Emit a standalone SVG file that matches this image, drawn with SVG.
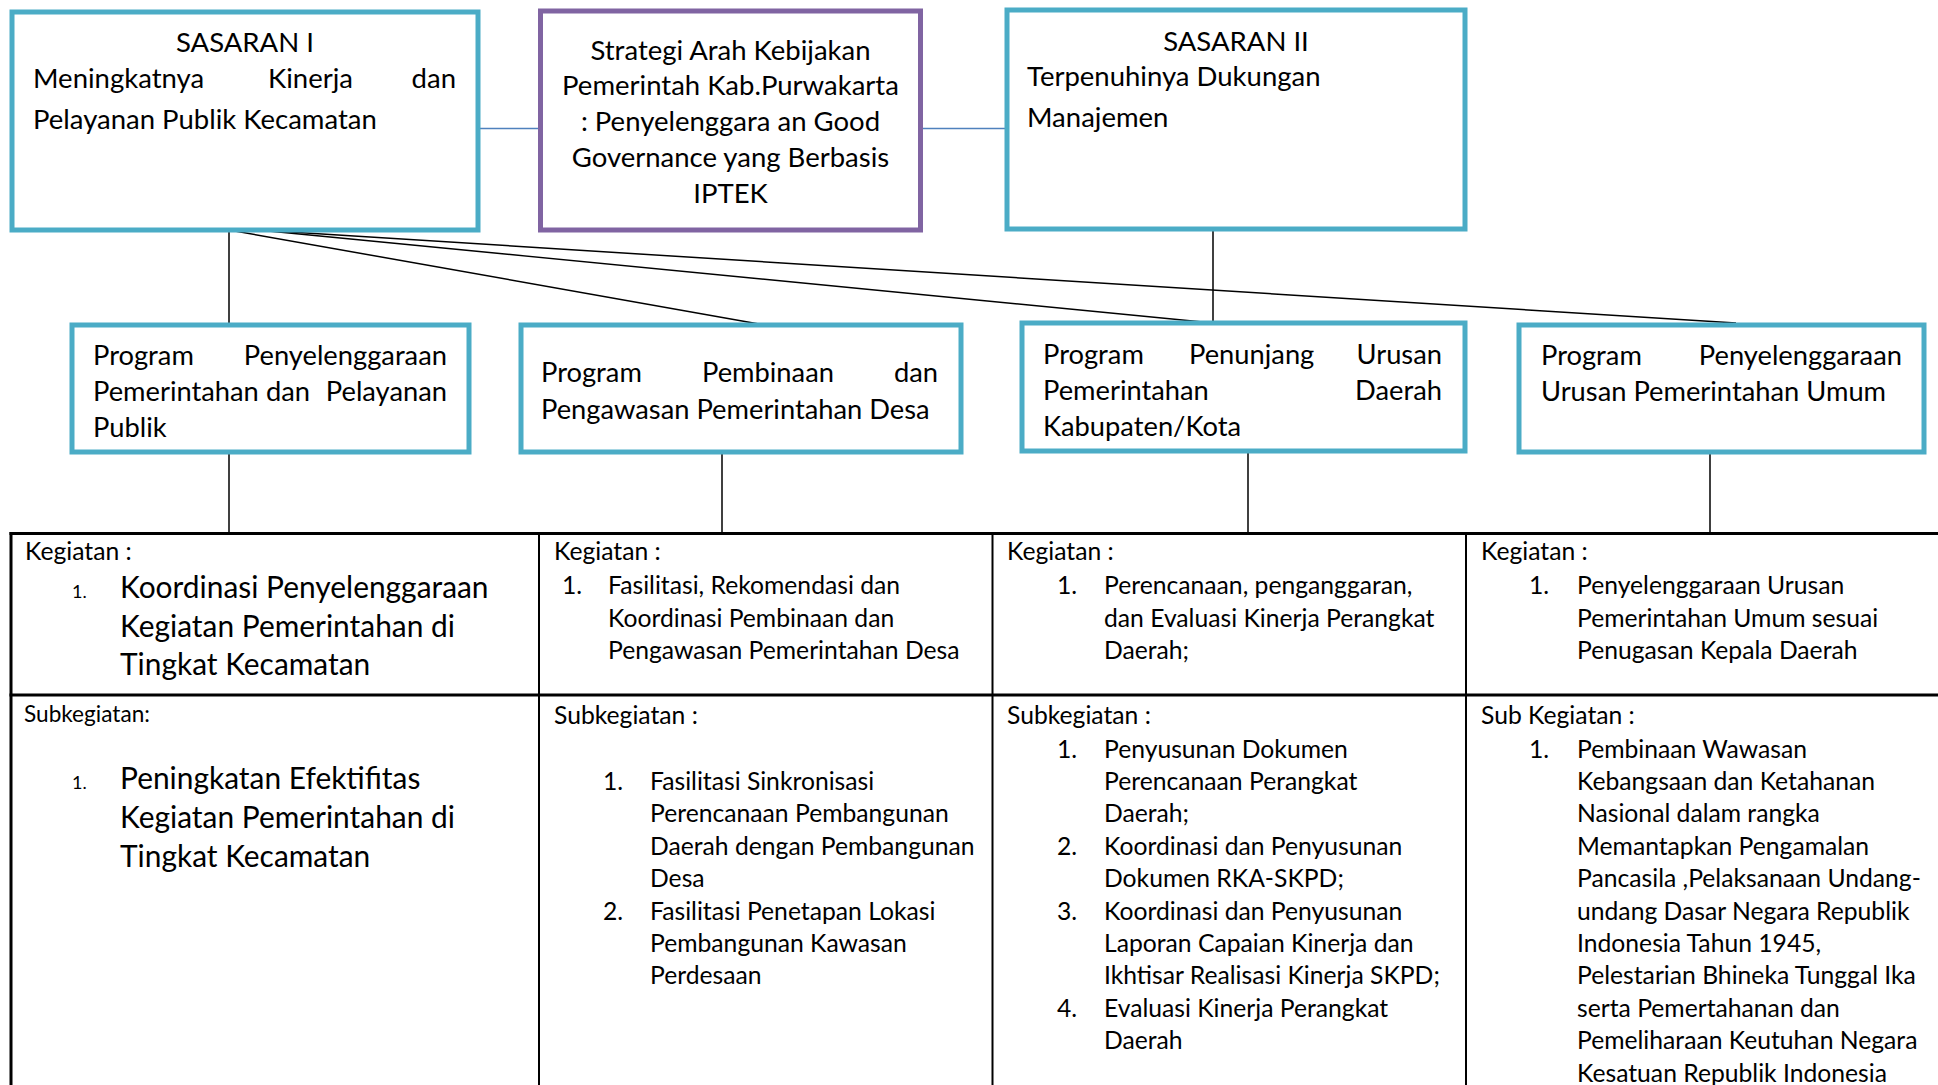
<svg xmlns="http://www.w3.org/2000/svg" width="1938" height="1085" viewBox="0 0 1938 1085">
<style>
text{font-family:Lato,"Liberation Sans",sans-serif;fill:#000}
.t{font-size:27.5px}
.p{font-size:27.3px}
.s{font-size:24.7px}
.L{font-size:29.9px}
.sm{font-size:22.6px}
.n{font-size:18px}
.mid{text-anchor:middle}
.end{text-anchor:end}
.aq{fill:#fff;stroke:#4BACC6;stroke-width:5}
.pu{fill:#fff;stroke:#8064A2;stroke-width:5}
.c{stroke:#000;stroke-width:1.5;fill:none}
.b{stroke:#4F81BD;stroke-width:1.5;fill:none}
.hb{stroke:#000;stroke-width:3}
.vb{stroke:#000;stroke-width:2}
</style>
<rect width="1938" height="1085" fill="#fff"/>
<g id="connectors">
<line class="b" x1="480" y1="128.5" x2="538" y2="128.5"/>
<line class="b" x1="923" y1="128.5" x2="1005" y2="128.5"/>
<line class="c" x1="229" y1="230" x2="229" y2="325"/>
<line class="c" x1="229" y1="230" x2="759" y2="324"/>
<line class="c" x1="258" y1="230" x2="1213" y2="323"/>
<line class="c" x1="258" y1="230" x2="1736" y2="323"/>
<line class="c" x1="1213" y1="229" x2="1213" y2="323"/>
<line class="c" x1="229" y1="452" x2="229" y2="533"/>
<line class="c" x1="722" y1="452" x2="722" y2="533"/>
<line class="c" x1="1248" y1="451" x2="1248" y2="533"/>
<line class="c" x1="1710" y1="452" x2="1710" y2="533"/>
</g>
<g id="sasaran1">
<rect class="aq" x="12" y="12" width="466" height="218"/>
<text class="t mid" x="245" y="52">SASARAN I</text>
<text class="t" x="33" y="87.5">Meningkatnya</text>
<text class="t" x="268" y="87.5">Kinerja</text>
<text class="t end" x="456" y="87.5">dan</text>
<text class="t" x="33" y="129">Pelayanan Publik Kecamatan</text>
</g>
<g id="strategi">
<rect class="pu" x="540.5" y="11" width="380" height="219"/>
<text class="t mid" x="730.5" y="60">Strategi Arah Kebijakan</text>
<text class="t mid" x="730.5" y="95">Pemerintah Kab.Purwakarta</text>
<text class="t mid" x="730.5" y="131">: Penyelenggara an Good</text>
<text class="t mid" x="730.5" y="167">Governance yang Berbasis</text>
<text class="t mid" x="730.5" y="202.5">IPTEK</text>
</g>
<g id="sasaran2">
<rect class="aq" x="1007" y="10" width="458" height="219"/>
<text class="t mid" x="1236" y="51">SASARAN II</text>
<text class="t" x="1027" y="86">Terpenuhinya Dukungan</text>
<text class="t" x="1027" y="127">Manajemen</text>
</g>
<g id="program1">
<rect class="aq" x="72" y="325" width="397" height="127"/>
<text class="p" x="93" y="365">Program</text>
<text class="p end" x="447" y="365">Penyelenggaraan</text>
<text class="p" x="93" y="401">Pemerintahan</text>
<text class="p mid" x="288" y="401">dan</text>
<text class="p end" x="447" y="401">Pelayanan</text>
<text class="p" x="93" y="436.5">Publik</text>
</g>
<g id="program2">
<rect class="aq" x="521" y="325" width="440" height="127"/>
<text class="p" x="541" y="382">Program</text>
<text class="p" x="702" y="382">Pembinaan</text>
<text class="p end" x="938" y="382">dan</text>
<text class="p" x="541" y="418.5">Pengawasan Pemerintahan Desa</text>
</g>
<g id="program3">
<rect class="aq" x="1022" y="323" width="443" height="128"/>
<text class="p" x="1043" y="364">Program</text>
<text class="p" x="1189" y="364">Penunjang</text>
<text class="p end" x="1442" y="364">Urusan</text>
<text class="p" x="1043" y="400">Pemerintahan</text>
<text class="p end" x="1442" y="400">Daerah</text>
<text class="p" x="1043" y="435.5">Kabupaten/Kota</text>
</g>
<g id="program4">
<rect class="aq" x="1519" y="325" width="405" height="127"/>
<text class="p" x="1541" y="365">Program</text>
<text class="p end" x="1902" y="365">Penyelenggaraan</text>
<text class="p" x="1541" y="401">Urusan Pemerintahan Umum</text>
</g>
<g id="table">
<line class="hb" x1="9.5" y1="533.5" x2="1945" y2="533.5"/>
<line class="hb" x1="9.5" y1="695" x2="1945" y2="695"/>
<line class="hb" x1="11" y1="532" x2="11" y2="1090"/>
<line class="vb" x1="539" y1="533" x2="539" y2="1090"/>
<line class="vb" x1="992.5" y1="533" x2="992.5" y2="1090"/>
<line class="vb" x1="1466" y1="533" x2="1466" y2="1090"/>
</g>
<g id="kegiatan1">
<text class="s" x="25" y="559.5">Kegiatan :</text>
<text class="n" x="72" y="598">1.</text>
<text class="L" x="120" y="598">Koordinasi Penyelenggaraan</text>
<text class="L" x="120" y="637">Kegiatan Pemerintahan di</text>
<text class="L" x="120" y="675">Tingkat Kecamatan</text>
</g>
<g id="subkegiatan1">
<text class="sm" x="24" y="721.5">Subkegiatan:</text>
<text class="n" x="72" y="788.5">1.</text>
<text class="L" x="120" y="788.5">Peningkatan Efektifitas</text>
<text class="L" x="120" y="827.5">Kegiatan Pemerintahan di</text>
<text class="L" x="120" y="866.5">Tingkat Kecamatan</text>
</g>
<g id="kegiatan2">
<text class="s" x="554" y="559.5">Kegiatan :</text>
<text class="s" x="562" y="593.5">1.</text>
<text class="s" x="608" y="593.5">Fasilitasi, Rekomendasi dan</text>
<text class="s" x="608" y="626.5">Koordinasi Pembinaan dan</text>
<text class="s" x="608" y="658.5">Pengawasan Pemerintahan Desa</text>
</g>
<g id="subkegiatan2">
<text class="s" x="554" y="723.5">Subkegiatan :</text>
<text class="s" x="603" y="790">1.</text>
<text class="s" x="650" y="790">Fasilitasi Sinkronisasi</text>
<text class="s" x="650" y="822.4">Perencanaan Pembangunan</text>
<text class="s" x="650" y="854.8">Daerah dengan Pembangunan</text>
<text class="s" x="650" y="887.2">Desa</text>
<text class="s" x="603" y="919.6">2.</text>
<text class="s" x="650" y="919.6">Fasilitasi Penetapan Lokasi</text>
<text class="s" x="650" y="952">Pembangunan Kawasan</text>
<text class="s" x="650" y="984.4">Perdesaan</text>
</g>
<g id="kegiatan3">
<text class="s" x="1007" y="559.5">Kegiatan :</text>
<text class="s" x="1057" y="593.5">1.</text>
<text class="s" x="1104" y="593.5">Perencanaan, penganggaran,</text>
<text class="s" x="1104" y="626.5">dan Evaluasi Kinerja Perangkat</text>
<text class="s" x="1104" y="658.5">Daerah;</text>
</g>
<g id="subkegiatan3">
<text class="s" x="1007" y="723.5">Subkegiatan :</text>
<text class="s" x="1057" y="757.5">1.</text>
<text class="s" x="1104" y="757.5">Penyusunan Dokumen</text>
<text class="s" x="1104" y="789.9">Perencanaan Perangkat</text>
<text class="s" x="1104" y="822.3">Daerah;</text>
<text class="s" x="1057" y="854.7">2.</text>
<text class="s" x="1104" y="854.7">Koordinasi dan Penyusunan</text>
<text class="s" x="1104" y="887.1">Dokumen RKA-SKPD;</text>
<text class="s" x="1057" y="919.5">3.</text>
<text class="s" x="1104" y="919.5">Koordinasi dan Penyusunan</text>
<text class="s" x="1104" y="951.9">Laporan Capaian Kinerja dan</text>
<text class="s" x="1104" y="984.3">Ikhtisar Realisasi Kinerja SKPD;</text>
<text class="s" x="1057" y="1016.7">4.</text>
<text class="s" x="1104" y="1016.7">Evaluasi Kinerja Perangkat</text>
<text class="s" x="1104" y="1049.1">Daerah</text>
</g>
<g id="kegiatan4">
<text class="s" x="1481" y="559.5">Kegiatan :</text>
<text class="s" x="1529" y="593.5">1.</text>
<text class="s" x="1577" y="593.5">Penyelenggaraan Urusan</text>
<text class="s" x="1577" y="626.5">Pemerintahan Umum sesuai</text>
<text class="s" x="1577" y="658.5">Penugasan Kepala Daerah</text>
</g>
<g id="subkegiatan4">
<text class="s" x="1481" y="723.5">Sub Kegiatan :</text>
<text class="s" x="1529" y="757.5">1.</text>
<text class="s" x="1577" y="757.5">Pembinaan Wawasan</text>
<text class="s" x="1577" y="789.9">Kebangsaan dan Ketahanan</text>
<text class="s" x="1577" y="822.3">Nasional dalam rangka</text>
<text class="s" x="1577" y="854.7">Memantapkan Pengamalan</text>
<text class="s" x="1577" y="887.1">Pancasila ,Pelaksanaan Undang-</text>
<text class="s" x="1577" y="919.5">undang Dasar Negara Republik</text>
<text class="s" x="1577" y="951.9">Indonesia Tahun 1945,</text>
<text class="s" x="1577" y="984.3">Pelestarian Bhineka Tunggal Ika</text>
<text class="s" x="1577" y="1016.7">serta Pemertahanan dan</text>
<text class="s" x="1577" y="1049.1">Pemeliharaan Keutuhan Negara</text>
<text class="s" x="1577" y="1081.5">Kesatuan Republik Indonesia</text>
</g>
</svg>
